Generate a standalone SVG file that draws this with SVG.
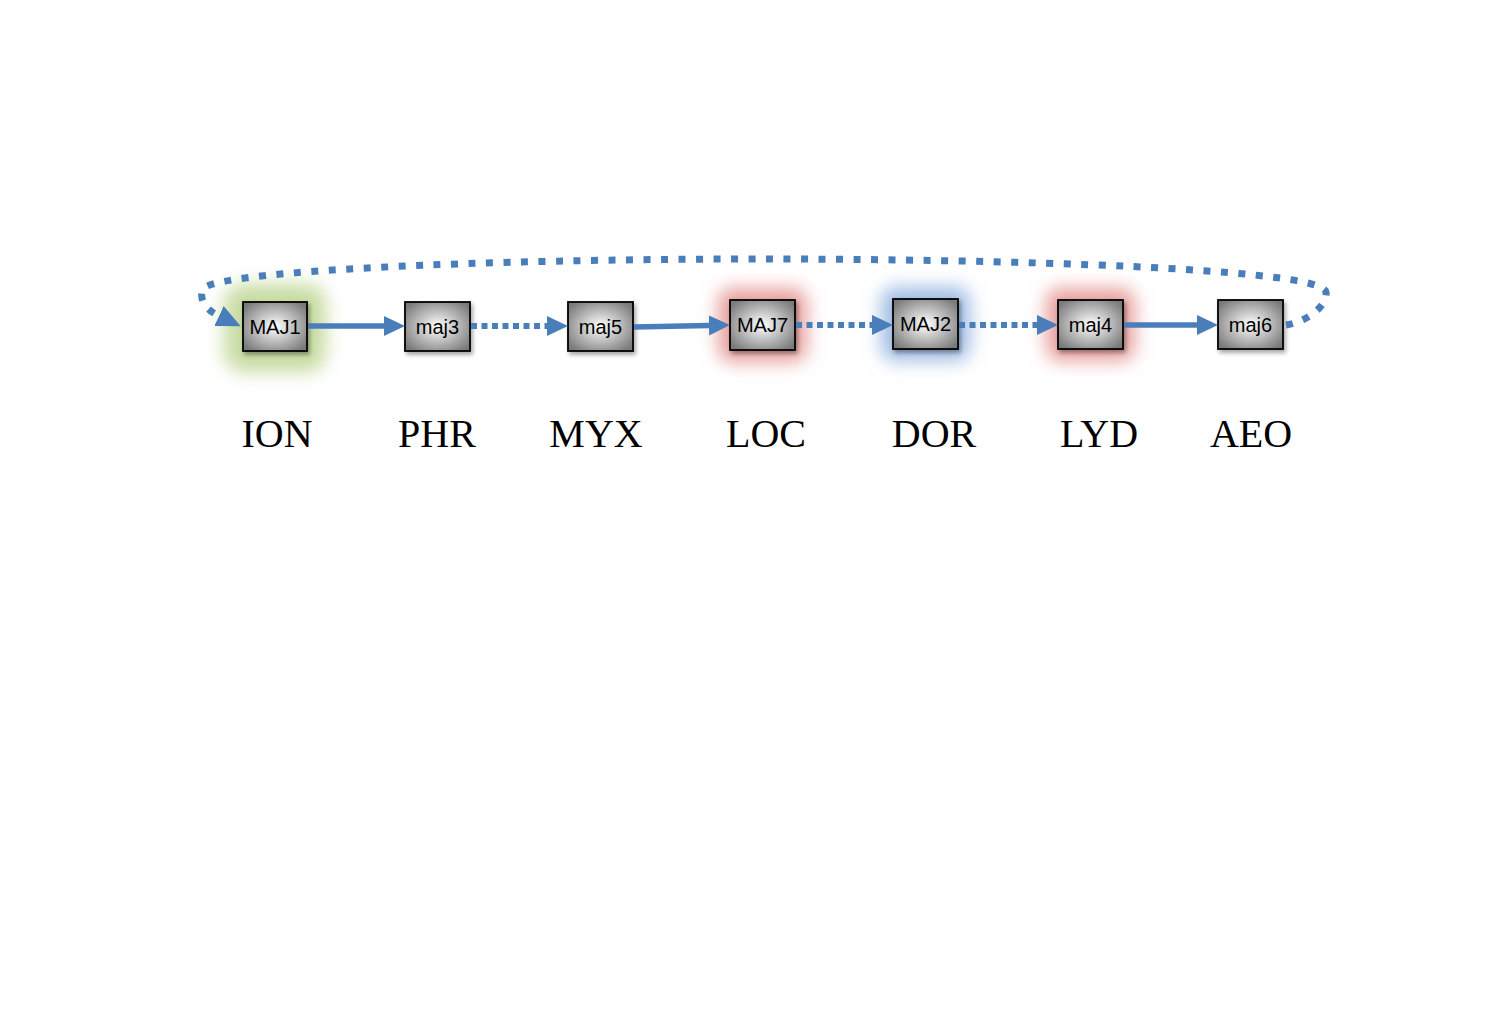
<svg xmlns="http://www.w3.org/2000/svg" width="1500" height="1026" viewBox="0 0 1500 1026">
<defs>
  <radialGradient id="boxFill" cx="50%" cy="50%" r="62%">
    <stop offset="0" stop-color="#ffffff"/>
    <stop offset="1" stop-color="#7a7a7a"/>
  </radialGradient>
  <filter id="glowBlur" x="-60%" y="-60%" width="220%" height="220%">
    <feGaussianBlur stdDeviation="9"/>
  </filter>
  <filter id="shadow" x="-20%" y="-20%" width="150%" height="150%">
    <feDropShadow dx="2" dy="3" stdDeviation="2" flood-color="#000" flood-opacity="0.35"/>
  </filter>
  <marker id="arrow" markerUnits="userSpaceOnUse" markerWidth="22" markerHeight="22" refX="0" refY="10" orient="auto" viewBox="0 0 22 20">
    <path d="M0,0 L21,10 L0,20 z" fill="#4a7ebb"/>
  </marker>
  <marker id="arrowLoop" markerUnits="userSpaceOnUse" markerWidth="26" markerHeight="24" refX="0" refY="11" orient="auto" viewBox="0 0 26 22">
    <path d="M0,0 L24,11 L0,22 z" fill="#4a7ebb"/>
  </marker>
</defs>
<style>
  .box { fill: url(#boxFill); stroke: #000; stroke-width: 1.8; }
  .blab { font-family: "Liberation Sans", Arial, sans-serif; font-size: 20px; fill: #000; text-anchor: middle; }
  .mode { font-family: "Liberation Serif", "Times New Roman", serif; font-size: 40px; fill: #000; text-anchor: middle; }
  .solid { fill: none; stroke: #4a7ebb; stroke-width: 5.5; marker-end: url(#arrow); }
  .dotted { fill: none; stroke: #4a7ebb; stroke-width: 6; stroke-dasharray: 6 4.5; marker-end: url(#arrow); }
  .loop { fill: none; stroke: #4a7ebb; stroke-width: 7; stroke-dasharray: 7 10.5; marker-end: url(#arrowLoop); }
</style>
<rect width="1500" height="1026" fill="#ffffff"/>

<g id="node-MAJ1">
  <rect x="224" y="284" width="102" height="88" rx="20" fill="#c8dca2" filter="url(#glowBlur)"/>
  <rect class="box" x="243" y="302" width="64" height="49" filter="url(#shadow)"/>
  <text class="blab" x="275" y="334">MAJ1</text>
</g>
<g id="node-maj3">
  <rect class="box" x="405" y="302" width="65" height="49" filter="url(#shadow)"/>
  <text class="blab" x="437.5" y="334">maj3</text>
</g>
<g id="node-maj5">
  <rect class="box" x="568" y="302" width="65" height="49" filter="url(#shadow)"/>
  <text class="blab" x="600.5" y="334">maj5</text>
</g>
<g id="node-MAJ7">
  <rect x="718" y="288" width="89" height="74" rx="14" fill="#e8a09e" filter="url(#glowBlur)"/>
  <rect class="box" x="730" y="300" width="65" height="50" filter="url(#shadow)"/>
  <text class="blab" x="762.5" y="332">MAJ7</text>
</g>
<g id="node-MAJ2">
  <rect x="881" y="287" width="89" height="74" rx="14" fill="#a0bde4" filter="url(#glowBlur)"/>
  <rect class="box" x="893" y="299" width="65" height="50" filter="url(#shadow)"/>
  <text class="blab" x="925.5" y="331">MAJ2</text>
</g>
<g id="node-maj4">
  <rect x="1046" y="288" width="89" height="73" rx="14" fill="#e8a09e" filter="url(#glowBlur)"/>
  <rect class="box" x="1058" y="300" width="65" height="49" filter="url(#shadow)"/>
  <text class="blab" x="1090.5" y="332">maj4</text>
</g>
<g id="node-maj6">
  <rect class="box" x="1218" y="300" width="65" height="49" filter="url(#shadow)"/>
  <text class="blab" x="1250.5" y="332">maj6</text>
</g>

<g id="connectors">
  <path class="loop" d="M1286,325 C1306,322 1328,306 1326,292 C1322,268 1000,259 760,259 C480,259 214,271 203,289 C199,298 204,309 219,316"/>
  <path class="solid" d="M308,326 L384,326"/>
  <path class="dotted" d="M471,326 L547,326"/>
  <path class="solid" d="M634,327 L709,325.5"/>
  <path class="dotted" d="M796,325 L872,325"/>
  <path class="dotted" d="M959,325 L1037,325"/>
  <path class="solid" d="M1124,325 L1197,325"/>
</g>

<g id="mode-labels">
  <text class="mode" x="277" y="447">ION</text>
  <text class="mode" x="437" y="447">PHR</text>
  <text class="mode" x="596" y="447">MYX</text>
  <text class="mode" x="766" y="447">LOC</text>
  <text class="mode" x="934" y="447">DOR</text>
  <text class="mode" x="1099" y="447">LYD</text>
  <text class="mode" x="1251" y="447">AEO</text>
</g>
</svg>
